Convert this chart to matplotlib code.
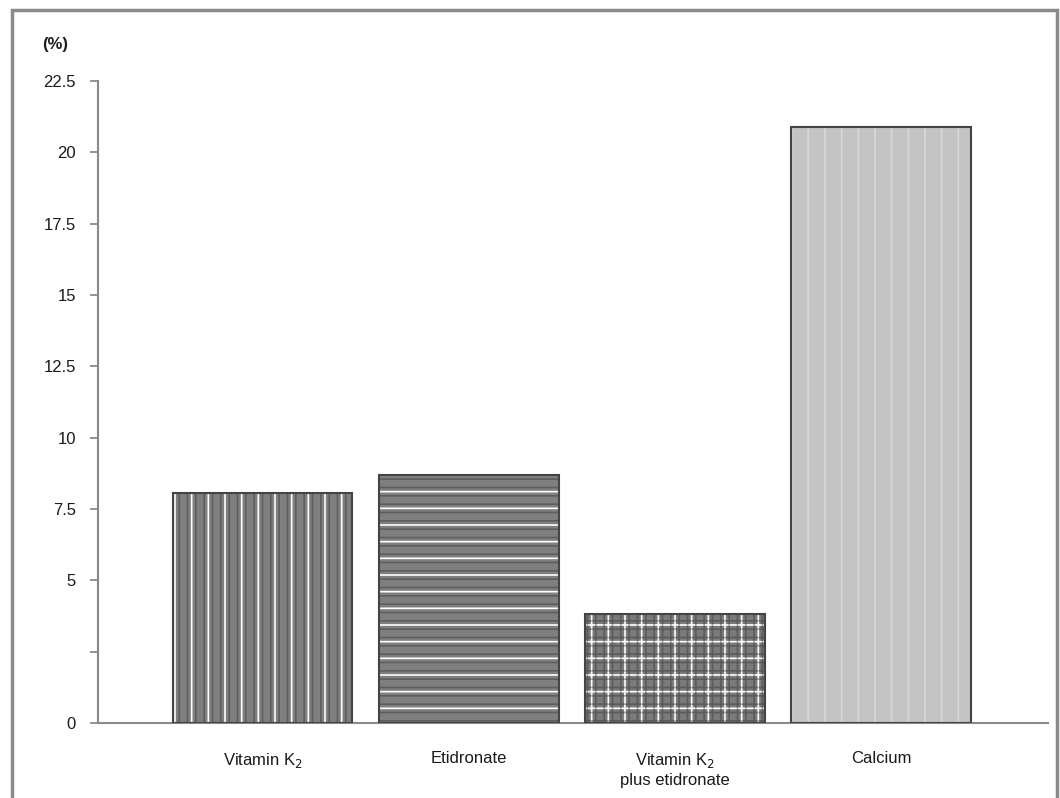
import matplotlib
matplotlib.use('Agg')
import matplotlib.pyplot as plt
from matplotlib.patches import Rectangle

categories = ['Vitamin K$_2$', 'Etidronate', 'Vitamin K$_2$\nplus etidronate', 'Calcium']
values = [8.05, 8.7, 3.82, 20.9]
yticks = [0, 2.5, 5, 7.5, 10, 12.5, 15, 17.5, 20, 22.5]
ytick_labels = ['0', '', '5', '7.5', '10', '12.5', '15', '17.5', '20', '22.5']

plt.rcParams['font.family'] = ['Liberation Sans', 'DejaVu Sans']
plt.rcParams['hatch.linewidth'] = 1.2

fig = plt.figure(figsize=(10.6, 7.98), dpi=100)
ax = fig.add_axes([0.0925, 0.094, 0.896, 0.8045])

x = list(range(len(categories)))
faces = ['#7f7f7f', '#7f7f7f', '#7a7a7a', '#c4c4c4']
hatch_a = ['|', '-', '+', '|']
col_a = ['white', 'white', 'white', '#d8d8d8']
hatch_b = ['||', '--', '++', None]
col_b = ['#222222', '#222222', '#222222', None]

# base fill
ax.bar(x, values, width=0.87, color=faces, edgecolor='none', zorder=2)
for i in x:
    ax.bar(x[i], values[i], width=0.87, facecolor='none', edgecolor=col_a[i],
           hatch=hatch_a[i], linewidth=0, zorder=3)
    if hatch_b[i]:
        ax.bar(x[i], values[i], width=0.87, facecolor='none', edgecolor=col_b[i],
               hatch=hatch_b[i], linewidth=0, zorder=3, alpha=0.35)
# outline
ax.bar(x, values, width=0.87, facecolor='none', edgecolor='#444444', linewidth=1.5, zorder=4)

ax.set_xlim(-0.8, 3.81)
ax.set_ylim(0, 22.5)
ax.set_yticks(yticks)
ax.set_yticklabels(ytick_labels, fontsize=12, color='#1a1a1a')
ax.set_xticks(x)
ax.set_xticklabels(categories, fontsize=12, color='#1a1a1a', linespacing=1.25)
ax.tick_params(axis='x', length=0, pad=20)
ax.tick_params(axis='y', length=6, width=1.2, color='#808080', pad=10)

for s in ['top', 'right']:
    ax.spines[s].set_visible(False)
for s in ['left', 'bottom']:
    ax.spines[s].set_color('#8a8a8a')
    ax.spines[s].set_linewidth(1.5)

fig.text(55 / 1060, 1 - 45 / 798, '(%)', fontsize=12, color='#1a1a1a',
         ha='center', va='center', fontweight='bold')

# outer frame around the picture
fig.patches.append(Rectangle((12 / 1060, -0.01), (1057 - 12) / 1060, 1 - 10 / 798 + 0.01,
                             transform=fig.transFigure, fill=False,
                             edgecolor='#8a8a8a', linewidth=2.5))

fig.savefig('out.png', dpi=100)
